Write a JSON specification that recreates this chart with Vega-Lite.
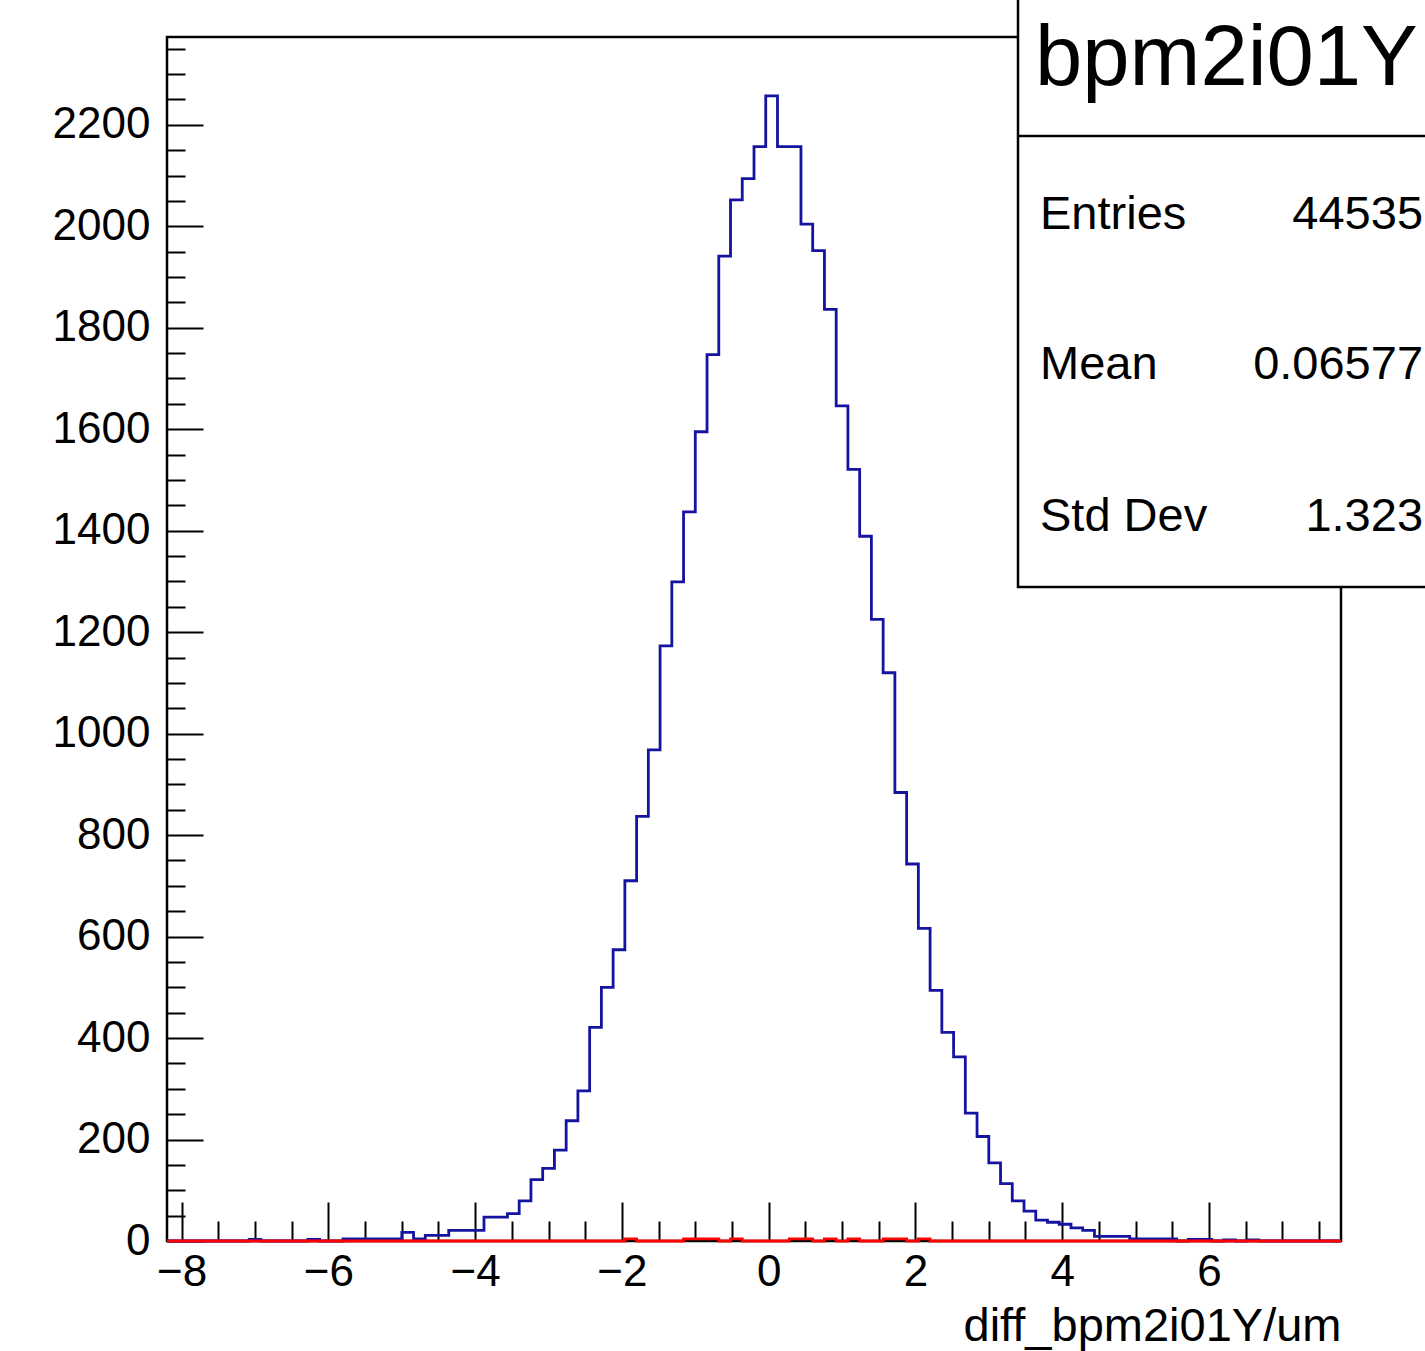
{
  "$schema": "https://vega.github.io/schema/vega-lite/v6.json",
  "width": 1174,
  "height": 1204,
  "autosize": {"type": "none"},
  "padding": {"left": 167, "top": 37, "right": 84, "bottom": 110},
  "background": "white",
  "config": {
    "view": {"stroke": "black", "strokeWidth": 2.5},
    "font": "Liberation Sans",
    "axis": {"grid": false, "domain": false, "tickColor": "black", "tickWidth": 2, "labelColor": "black", "labelFont": "Liberation Sans", "titleFont": "Liberation Sans", "titleColor": "black", "titleFontWeight": "normal", "labelFlush": false, "labelOverlap": false}
  },
  "datasets": {
    "hist": [
      {"lo": -8.2, "hi": -8.04, "blue": 0, "red": 0},
      {"lo": -8.04, "hi": -7.88, "blue": 0, "red": 0},
      {"lo": -7.88, "hi": -7.72, "blue": 0, "red": 0},
      {"lo": -7.72, "hi": -7.56, "blue": 0, "red": 0},
      {"lo": -7.56, "hi": -7.4, "blue": 0, "red": 0},
      {"lo": -7.4, "hi": -7.24, "blue": 0, "red": 0},
      {"lo": -7.24, "hi": -7.08, "blue": 0, "red": 0},
      {"lo": -7.08, "hi": -6.92, "blue": 3, "red": 0},
      {"lo": -6.92, "hi": -6.76, "blue": 0, "red": 0},
      {"lo": -6.76, "hi": -6.6, "blue": 0, "red": 0},
      {"lo": -6.6, "hi": -6.44, "blue": 0, "red": 0},
      {"lo": -6.44, "hi": -6.28, "blue": 0, "red": 0},
      {"lo": -6.28, "hi": -6.12, "blue": 3, "red": 0},
      {"lo": -6.12, "hi": -5.96, "blue": 0, "red": 0},
      {"lo": -5.96, "hi": -5.8, "blue": 0, "red": 0},
      {"lo": -5.8, "hi": -5.64, "blue": 4, "red": 0},
      {"lo": -5.64, "hi": -5.48, "blue": 4, "red": 0},
      {"lo": -5.48, "hi": -5.32, "blue": 4, "red": 0},
      {"lo": -5.32, "hi": -5.16, "blue": 4, "red": 0},
      {"lo": -5.16, "hi": -5.0, "blue": 4, "red": 0},
      {"lo": -5.0, "hi": -4.84, "blue": 17, "red": 0},
      {"lo": -4.84, "hi": -4.68, "blue": 4, "red": 0},
      {"lo": -4.68, "hi": -4.52, "blue": 11, "red": 0},
      {"lo": -4.52, "hi": -4.36, "blue": 11, "red": 0},
      {"lo": -4.36, "hi": -4.2, "blue": 21, "red": 0},
      {"lo": -4.2, "hi": -4.04, "blue": 21, "red": 0},
      {"lo": -4.04, "hi": -3.88, "blue": 21, "red": 0},
      {"lo": -3.88, "hi": -3.72, "blue": 47, "red": 0},
      {"lo": -3.72, "hi": -3.56, "blue": 47, "red": 0},
      {"lo": -3.56, "hi": -3.4, "blue": 54, "red": 0},
      {"lo": -3.4, "hi": -3.24, "blue": 79, "red": 0},
      {"lo": -3.24, "hi": -3.08, "blue": 121, "red": 0},
      {"lo": -3.08, "hi": -2.92, "blue": 143, "red": 0},
      {"lo": -2.92, "hi": -2.76, "blue": 179, "red": 0},
      {"lo": -2.76, "hi": -2.6, "blue": 237, "red": 0},
      {"lo": -2.6, "hi": -2.44, "blue": 296, "red": 0},
      {"lo": -2.44, "hi": -2.28, "blue": 421, "red": 0},
      {"lo": -2.28, "hi": -2.12, "blue": 500, "red": 0},
      {"lo": -2.12, "hi": -1.96, "blue": 574, "red": 0},
      {"lo": -1.96, "hi": -1.8, "blue": 710, "red": 4},
      {"lo": -1.8, "hi": -1.64, "blue": 837, "red": 0},
      {"lo": -1.64, "hi": -1.48, "blue": 968, "red": 0},
      {"lo": -1.48, "hi": -1.32, "blue": 1173, "red": 0},
      {"lo": -1.32, "hi": -1.16, "blue": 1299, "red": 0},
      {"lo": -1.16, "hi": -1.0, "blue": 1437, "red": 4},
      {"lo": -1.0, "hi": -0.84, "blue": 1595, "red": 4},
      {"lo": -0.84, "hi": -0.68, "blue": 1747, "red": 4},
      {"lo": -0.68, "hi": -0.52, "blue": 1941, "red": 0},
      {"lo": -0.52, "hi": -0.36, "blue": 2052, "red": 4},
      {"lo": -0.36, "hi": -0.2, "blue": 2094, "red": 0},
      {"lo": -0.2, "hi": -0.04, "blue": 2157, "red": 0},
      {"lo": -0.04, "hi": 0.12, "blue": 2257, "red": 0},
      {"lo": 0.12, "hi": 0.28, "blue": 2157, "red": 0},
      {"lo": 0.28, "hi": 0.44, "blue": 2157, "red": 4},
      {"lo": 0.44, "hi": 0.6, "blue": 2004, "red": 4},
      {"lo": 0.6, "hi": 0.76, "blue": 1952, "red": 0},
      {"lo": 0.76, "hi": 0.92, "blue": 1836, "red": 4},
      {"lo": 0.92, "hi": 1.08, "blue": 1646, "red": 0},
      {"lo": 1.08, "hi": 1.24, "blue": 1521, "red": 4},
      {"lo": 1.24, "hi": 1.4, "blue": 1389, "red": 0},
      {"lo": 1.4, "hi": 1.56, "blue": 1225, "red": 0},
      {"lo": 1.56, "hi": 1.72, "blue": 1120, "red": 4},
      {"lo": 1.72, "hi": 1.88, "blue": 884, "red": 4},
      {"lo": 1.88, "hi": 2.04, "blue": 743, "red": 0},
      {"lo": 2.04, "hi": 2.2, "blue": 616, "red": 4},
      {"lo": 2.2, "hi": 2.36, "blue": 494, "red": 0},
      {"lo": 2.36, "hi": 2.52, "blue": 411, "red": 0},
      {"lo": 2.52, "hi": 2.68, "blue": 363, "red": 0},
      {"lo": 2.68, "hi": 2.84, "blue": 252, "red": 0},
      {"lo": 2.84, "hi": 3.0, "blue": 206, "red": 0},
      {"lo": 3.0, "hi": 3.16, "blue": 154, "red": 0},
      {"lo": 3.16, "hi": 3.32, "blue": 113, "red": 0},
      {"lo": 3.32, "hi": 3.48, "blue": 79, "red": 0},
      {"lo": 3.48, "hi": 3.64, "blue": 59, "red": 0},
      {"lo": 3.64, "hi": 3.8, "blue": 41, "red": 0},
      {"lo": 3.8, "hi": 3.96, "blue": 37, "red": 0},
      {"lo": 3.96, "hi": 4.12, "blue": 33, "red": 0},
      {"lo": 4.12, "hi": 4.28, "blue": 26, "red": 0},
      {"lo": 4.28, "hi": 4.44, "blue": 21, "red": 0},
      {"lo": 4.44, "hi": 4.6, "blue": 9, "red": 0},
      {"lo": 4.6, "hi": 4.76, "blue": 9, "red": 0},
      {"lo": 4.76, "hi": 4.92, "blue": 9, "red": 0},
      {"lo": 4.92, "hi": 5.08, "blue": 4, "red": 0},
      {"lo": 5.08, "hi": 5.24, "blue": 4, "red": 0},
      {"lo": 5.24, "hi": 5.4, "blue": 4, "red": 0},
      {"lo": 5.4, "hi": 5.56, "blue": 4, "red": 0},
      {"lo": 5.56, "hi": 5.72, "blue": 0, "red": 0},
      {"lo": 5.72, "hi": 5.88, "blue": 3, "red": 0},
      {"lo": 5.88, "hi": 6.04, "blue": 3, "red": 0},
      {"lo": 6.04, "hi": 6.2, "blue": 0, "red": 0},
      {"lo": 6.2, "hi": 6.36, "blue": 2, "red": 0},
      {"lo": 6.36, "hi": 6.52, "blue": 0, "red": 0},
      {"lo": 6.52, "hi": 6.68, "blue": 2, "red": 0},
      {"lo": 6.68, "hi": 6.84, "blue": 0, "red": 0},
      {"lo": 6.84, "hi": 7.0, "blue": 0, "red": 0},
      {"lo": 7.0, "hi": 7.16, "blue": 0, "red": 0},
      {"lo": 7.16, "hi": 7.32, "blue": 0, "red": 0},
      {"lo": 7.32, "hi": 7.48, "blue": 0, "red": 0},
      {"lo": 7.48, "hi": 7.64, "blue": 0, "red": 0},
      {"lo": 7.64, "hi": 7.8, "blue": 0, "red": 0}
    ]
  },
  "layer": [
    {
      "data": {"name": "hist"},
      "transform": [{"fold": ["lo", "hi"], "as": ["edge", "xpos"]}],
      "mark": {"type": "line", "color": "#1414a0", "strokeWidth": 2.8, "interpolate": "linear"},
      "encoding": {
        "x": {"field": "xpos", "type": "quantitative", "scale": {"domain": [-8.2, 7.8], "nice": false, "zero": false},
          "axis": {"orient": "bottom", "values": [-8, -6, -4, -2, 0, 2, 4, 6], "tickSize": -39, "labelPadding": 48, "labelFontSize": 44, "labelBaseline": "top", "format": "d", "title": "diff_bpm2i01Y/um", "titleFontSize": 47, "titleX": 1174, "titleY": 99, "titleAlign": "right", "titleBaseline": "alphabetic"}},
        "y": {"field": "blue", "type": "quantitative", "scale": {"domain": [0, 2373], "nice": false, "zero": false},
          "axis": {"orient": "left", "values": [0, 200, 400, 600, 800, 1000, 1200, 1400, 1600, 1800, 2000, 2200], "tickSize": -36, "labelPadding": 53, "labelFontSize": 44, "format": "d", "title": null}},
        "order": [{"field": "xpos", "type": "quantitative"}, {"field": "edge", "type": "ordinal"}]
      }
    },
    {
      "data": {"name": "hist"},
      "transform": [{"fold": ["lo", "hi"], "as": ["edge", "xpos"]}],
      "mark": {"type": "line", "color": "#ff0000", "strokeWidth": 2.8, "interpolate": "linear"},
      "encoding": {
        "x": {"field": "xpos", "type": "quantitative", "scale": {"domain": [-8.2, 7.8], "nice": false, "zero": false},
          "axis": {"orient": "bottom", "values": [-7.5, -7, -6.5, -5.5, -5, -4.5, -3.5, -3, -2.5, -1.5, -1, -0.5, 0.5, 1, 1.5, 2.5, 3, 3.5, 4.5, 5, 5.5, 6.5, 7, 7.5], "tickSize": -20, "labels": false, "title": null}},
        "y": {"field": "red", "type": "quantitative", "scale": {"domain": [0, 2373], "nice": false, "zero": false},
          "axis": {"orient": "left", "values": [50, 100, 150, 250, 300, 350, 450, 500, 550, 650, 700, 750, 850, 900, 950, 1050, 1100, 1150, 1250, 1300, 1350, 1450, 1500, 1550, 1650, 1700, 1750, 1850, 1900, 1950, 2050, 2100, 2150, 2250, 2300, 2350], "tickSize": -18, "labels": false, "title": null}},
        "order": [{"field": "xpos", "type": "quantitative"}, {"field": "edge", "type": "ordinal"}]
      }
    },
    {
      "data": {"values": [{}]},
      "mark": {"type": "rect", "fill": "white", "stroke": "black", "strokeWidth": 2.5, "clip": false},
      "encoding": {
        "x": {"datum": 3.398, "type": "quantitative", "scale": {"domain": [-8.2, 7.8], "nice": false, "zero": false}, "axis": null},
        "x2": {"datum": 9.7},
        "y": {"datum": 1289, "type": "quantitative", "scale": {"domain": [0, 2373], "nice": false, "zero": false}, "axis": null},
        "y2": {"datum": 2466}
      }
    },
    {
      "data": {"values": [{}]},
      "mark": {"type": "rule", "stroke": "black", "strokeWidth": 2.5, "clip": false},
      "encoding": {
        "x": {"datum": 3.398, "type": "quantitative", "scale": {"domain": [-8.2, 7.8], "nice": false, "zero": false}, "axis": null},
        "x2": {"datum": 9.7},
        "y": {"datum": 2178, "type": "quantitative", "scale": {"domain": [0, 2373], "nice": false, "zero": false}, "axis": null}
      }
    },
    {
      "data": {"values": [{"t": "bpm2i01Y"}]},
      "mark": {"type": "text", "align": "left", "baseline": "alphabetic", "fontSize": 85, "font": "Liberation Sans", "color": "black", "clip": false},
      "encoding": {
        "text": {"field": "t"},
        "x": {"datum": 3.63, "type": "quantitative", "scale": {"domain": [-8.2, 7.8], "nice": false, "zero": false}, "axis": null},
        "y": {"datum": 2278, "type": "quantitative", "scale": {"domain": [0, 2373], "nice": false, "zero": false}, "axis": null}
      }
    },
    {
      "data": {"values": [{"t": "Entries"}]},
      "mark": {"type": "text", "align": "left", "baseline": "middle", "fontSize": 47, "font": "Liberation Sans", "color": "black", "clip": false},
      "encoding": {
        "text": {"field": "t"},
        "x": {"datum": 3.698, "type": "quantitative", "scale": {"domain": [-8.2, 7.8], "nice": false, "zero": false}, "axis": null},
        "y": {"datum": 2023, "type": "quantitative", "scale": {"domain": [0, 2373], "nice": false, "zero": false}, "axis": null}
      }
    },
    {
      "data": {"values": [{"t": "44535"}]},
      "mark": {"type": "text", "align": "right", "baseline": "middle", "fontSize": 47, "font": "Liberation Sans", "color": "black", "clip": false},
      "encoding": {
        "text": {"field": "t"},
        "x": {"datum": 8.918, "type": "quantitative", "scale": {"domain": [-8.2, 7.8], "nice": false, "zero": false}, "axis": null},
        "y": {"datum": 2023, "type": "quantitative", "scale": {"domain": [0, 2373], "nice": false, "zero": false}, "axis": null}
      }
    },
    {
      "data": {"values": [{"t": "Mean"}]},
      "mark": {"type": "text", "align": "left", "baseline": "middle", "fontSize": 47, "font": "Liberation Sans", "color": "black", "clip": false},
      "encoding": {
        "text": {"field": "t"},
        "x": {"datum": 3.698, "type": "quantitative", "scale": {"domain": [-8.2, 7.8], "nice": false, "zero": false}, "axis": null},
        "y": {"datum": 1727, "type": "quantitative", "scale": {"domain": [0, 2373], "nice": false, "zero": false}, "axis": null}
      }
    },
    {
      "data": {"values": [{"t": "0.06577"}]},
      "mark": {"type": "text", "align": "right", "baseline": "middle", "fontSize": 47, "font": "Liberation Sans", "color": "black", "clip": false},
      "encoding": {
        "text": {"field": "t"},
        "x": {"datum": 8.918, "type": "quantitative", "scale": {"domain": [-8.2, 7.8], "nice": false, "zero": false}, "axis": null},
        "y": {"datum": 1727, "type": "quantitative", "scale": {"domain": [0, 2373], "nice": false, "zero": false}, "axis": null}
      }
    },
    {
      "data": {"values": [{"t": "Std Dev"}]},
      "mark": {"type": "text", "align": "left", "baseline": "middle", "fontSize": 47, "font": "Liberation Sans", "color": "black", "clip": false},
      "encoding": {
        "text": {"field": "t"},
        "x": {"datum": 3.698, "type": "quantitative", "scale": {"domain": [-8.2, 7.8], "nice": false, "zero": false}, "axis": null},
        "y": {"datum": 1426, "type": "quantitative", "scale": {"domain": [0, 2373], "nice": false, "zero": false}, "axis": null}
      }
    },
    {
      "data": {"values": [{"t": "1.323"}]},
      "mark": {"type": "text", "align": "right", "baseline": "middle", "fontSize": 47, "font": "Liberation Sans", "color": "black", "clip": false},
      "encoding": {
        "text": {"field": "t"},
        "x": {"datum": 8.918, "type": "quantitative", "scale": {"domain": [-8.2, 7.8], "nice": false, "zero": false}, "axis": null},
        "y": {"datum": 1426, "type": "quantitative", "scale": {"domain": [0, 2373], "nice": false, "zero": false}, "axis": null}
      }
    }
  ],
  "resolve": {"axis": {"x": "independent", "y": "independent"}}
}
